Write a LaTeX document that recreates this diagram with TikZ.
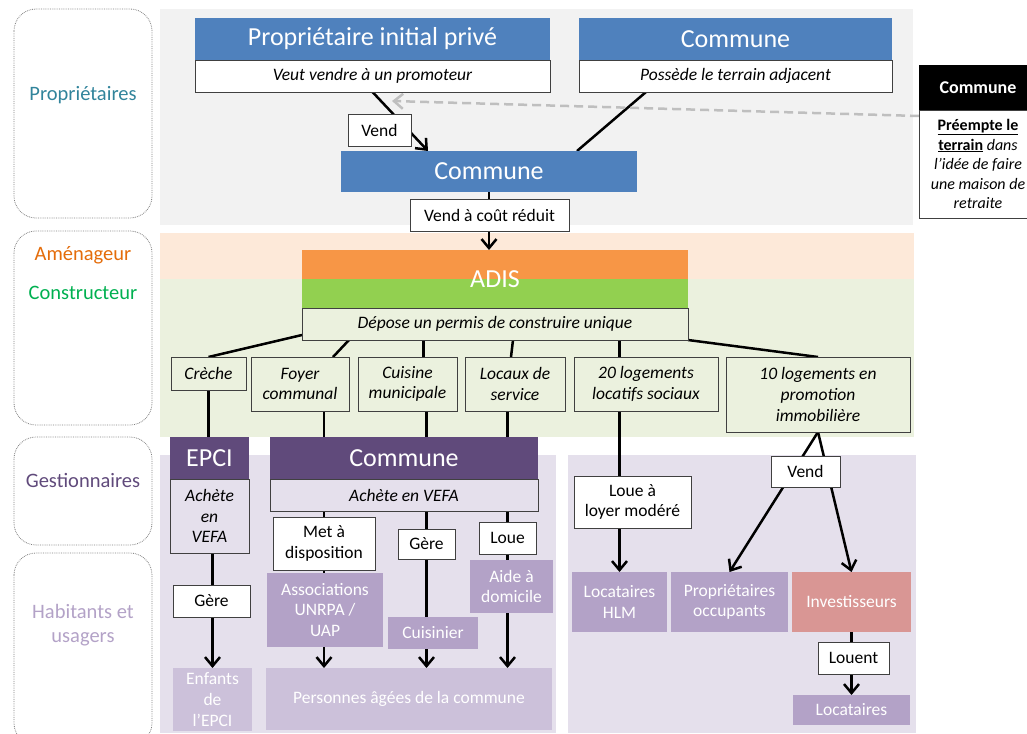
\documentclass[tikz,border=0pt]{standalone}
\usepackage{fontspec}
\setmainfont{Carlito}
\usepackage{tikz}
\usetikzlibrary{arrows.meta,positioning,calc}
\definecolor{bleu}{HTML}{4F81BD}
\definecolor{violetF}{HTML}{604A7B}
\definecolor{mauve}{HTML}{B3A2C7}
\definecolor{lilas}{HTML}{CCC1DA}
\definecolor{lavande}{HTML}{E5E0EC}
\definecolor{fondgris}{HTML}{F2F2F2}
\definecolor{orangeF}{HTML}{F79646}
\definecolor{orangeClair}{HTML}{FDE9D9}
\definecolor{vertF}{HTML}{92D050}
\definecolor{vertClair}{HTML}{EBF1DE}
\definecolor{rose}{HTML}{D99694}
\definecolor{bordure}{HTML}{404040}
\definecolor{tealF}{HTML}{31849B}
\definecolor{orangeT}{HTML}{E46C0A}
\definecolor{vertT}{HTML}{00B050}
\pgfdeclarelayer{fond}
\pgfdeclarelayer{liens}
\pgfsetlayers{fond,liens,main}
\tikzset{
  bloc/.style={rectangle,inner sep=0pt,outer sep=0pt,align=center},
  entete/.style={bloc,fill=#1,text=white,font=\fontsize{26}{30}\selectfont},
  action/.style={bloc,draw=bordure,fill=#1,font=\fontsize{17.5}{20.7}\selectfont\itshape},
  verbe/.style={bloc,draw=bordure,fill=white,font=\fontsize{17.5}{20.7}\selectfont},
  acteur/.style={bloc,fill=#1,text=white,font=\fontsize{17.5}{20.7}\selectfont},
  role/.style={align=center,font=\fontsize{20.5}{24}\selectfont},
  colonne/.style={draw=gray,densely dotted,rounded corners=22pt,line width=0.8pt},
  trait/.style={line width=2.5pt},
  fleche/.style={line width=2.5pt,-{Straight Barb[length=9pt,width=15pt]}},
}

\begin{document}
\begin{tikzpicture}[x=1pt,y=-1pt]
\useasboundingbox (0,0) rectangle (1027,733);

% draw background bands
\begin{pgfonlayer}{fond}
\fill[fondgris] (160,9) rectangle (913,225);
\fill[orangeClair] (160,233) rectangle (914,279);
\fill[vertClair] (160,279) rectangle (914,437);
\fill[lavande] (160,455) rectangle (556,733);
\fill[lavande] (568,455) rectangle (916,733);
\end{pgfonlayer}

% draw role column
\foreach \ya/\yb in {9/218,231/425,437/545,553/745}
  \draw[colonne] (14,\ya) rectangle (152,\yb);
\node[role,text=tealF] (rProp) at (83,95) {Propriétaires};
\node[role,text=orangeT] (rAmen) at (83,255) {Aménageur};
\node[role,text=vertT] (rCons) at (83,293) {Constructeur};
\node[role,text=violetF] (rGest) at (83,480) {Gestionnaires};
\node[role,text=mauve] (rHab) at (83,625) {Habitants et\\usagers};

% draw owners
\node[entete=bleu,minimum width=355,minimum height=42] (propH) at (372.5,39) {Propriétaire initial privé};
\node[action=white,minimum width=355,minimum height=32,below=0pt of propH] (propS) {Veut vendre à un promoteur};
\node[entete=bleu,minimum width=313,minimum height=42] (comH) at (735.5,39) {Commune};
\node[action=white,minimum width=313,minimum height=32,below=0pt of comH] (comS) {Possède le terrain adjacent};
\node[entete=bleu,minimum width=296,minimum height=41] (comMid) at (489,171.5) {Commune};
\node[bloc,fill=black,text=white,font=\fontsize{18}{22}\selectfont\bfseries,minimum width=118,minimum height=45] (preH) at (978,87.5) {Commune};
\node[bloc,draw=bordure,fill=white,font=\fontsize{16}{19.5}\selectfont,minimum width=118,minimum height=108,below=0pt of preH] (preS)
  {\textbf{\underline{Préempte le}}\\\textbf{\underline{terrain}} \textit{dans}\\\textit{l’idée de faire}\\\textit{une maison de}\\\textit{retraite}};
\coordinate (preTip) at (392,101);

% draw developer
\node[bloc,fill=orangeF,minimum width=386,minimum height=29] (adisO) at (495,264.5) {};
\node[bloc,fill=vertF,minimum width=386,minimum height=29,below=0pt of adisO] (adisG) {};
\node[text=white,font=\fontsize{26}{30}\selectfont] (adis) at (adisO.south) {ADIS};
\node[action=vertClair,minimum width=386,minimum height=32,below=0pt of adisG] (depose) {Dépose un permis de construire unique};

% draw programme
\node[action=vertClair,anchor=north,minimum width=75,minimum height=33] (creche) at (208.5,357) {Crèche};
\node[action=vertClair,anchor=north,minimum width=98,minimum height=54] (foyer) at (300,357) {Foyer\\communal};
\node[action=vertClair,anchor=north,minimum width=99,minimum height=54] (cuisine) at (407.5,357) {Cuisine\\municipale};
\node[action=vertClair,anchor=north,minimum width=100,minimum height=54] (locaux) at (515,357) {Locaux de\\service};
\node[action=vertClair,anchor=north,minimum width=144,minimum height=54] (logSoc) at (646,357) {20 logements\\locatifs sociaux};
\node[action=vertClair,anchor=north,minimum width=184,minimum height=75] (logPro) at (818,357) {10 logements en\\promotion\\immobilière};

% draw managers
\node[entete=violetF,minimum width=79,minimum height=42] (epciH) at (209.5,458) {EPCI};
\node[action=lavande,minimum width=79,minimum height=74,below=0pt of epciH] (epciS) {Achète\\en\\VEFA};
\node[entete=violetF,minimum width=268,minimum height=42] (comG) at (404,458) {Commune};
\node[action=lavande,minimum width=268,minimum height=32,below=0pt of comG] (comGS) {Achète en VEFA};

% draw users
\node[acteur=lilas,anchor=north,minimum width=79,minimum height=63] (enfants) at (212.5,668) {Enfants\\de\\l’EPCI};
\node[acteur=mauve,minimum width=116,minimum height=74] (assoc) at (325,610) {Associations\\UNRPA /\\UAP};
\node[acteur=mauve,minimum width=90,minimum height=32] (cuisinier) at (433,633) {Cuisinier};
\node[acteur=mauve,minimum width=83,minimum height=53] (aide) at (511.5,586.5) {Aide à\\domicile};
\node[acteur=lilas,anchor=north,minimum width=286,minimum height=62] (personnes) at (409,668) {Personnes âgées de la commune};
\node[acteur=mauve,minimum width=95,minimum height=60] (locHLM) at (619.5,602) {Locataires\\HLM};
\node[acteur=mauve,minimum width=117,minimum height=60] (propOcc) at (729.5,602) {Propriétaires\\occupants};
\node[acteur=rose,minimum width=119,minimum height=60] (invest) at (851.5,602) {Investisseurs};
\node[acteur=mauve,minimum width=117,minimum height=30] (locataires) at (851.5,710) {Locataires};

% draw verbs
\node[verbe,minimum width=63,minimum height=32] (vendA) at (379.5,130) {Vend};
\node[verbe,minimum width=159,minimum height=32] (vendCout) at (489.5,215) {Vend à coût réduit};
\node[verbe,minimum width=77,minimum height=32] (gereE) at (211.5,601) {Gère};
\node[verbe,minimum width=102,minimum height=53] (metDispo) at (324,543.5) {Met à\\disposition};
\node[verbe,minimum width=57,minimum height=30] (gereC) at (426.5,544) {Gère};
\node[verbe,minimum width=57,minimum height=32] (loue) at (507.5,538) {Loue};
\node[verbe,minimum width=117,minimum height=52] (loueLoyer) at (632.5,502) {Loue à\\loyer modéré};
\node[verbe,minimum width=69,minimum height=31] (vendB) at (805.5,471.5) {Vend};
\node[verbe,minimum width=71,minimum height=32] (louent) at (853.5,658) {Louent};

% draw links
\begin{pgfonlayer}{liens}
\draw[fleche] (propS.south) -- ($(comMid.north west)+(87,0)$);
\draw[trait] ($(comS.south west)+(67,0)$) -- ($(comMid.north east)+(-60,0)$);
\draw[fleche,draw=gray!50,dash pattern=on 9pt off 5pt] ($(preS.north west)+(0,6)$) -- (preTip);
\draw[fleche] (comMid.south) -- (comMid.south |- adisO.north);
\draw[trait] ($(depose.south west)+(0,-5)$) -- (creche.north);
\draw[trait] ($(depose.south west)+(47,0)$) -- ($(foyer.north east)+(-16,0)$);
\draw[trait] ($(cuisine.north)+(16,0)$) -- +(0,-17);
\draw[trait] ($(locaux.north)+(-4,0)$) -- +(2,-17);
\draw[trait] (locHLM.north |- logSoc.north) -- (locHLM.north |- depose.south);
\draw[trait] (depose.south east) -- (logPro.north);
\draw[trait] (creche.south) -- (creche.south |- epciH.north);
\foreach \a/\b in {foyer/metDispo,cuisine/gereC,locaux/loue}
  \draw[trait] (\b |- \a.south) -- (\b |- comG.north);
\draw[fleche] (enfants.north |- epciS.south) -- (enfants.north);
\foreach \n in {metDispo,gereC,loue}
  \draw[fleche] (\n |- comGS.south) -- (\n |- personnes.north);
\draw[fleche] (locHLM.north |- logSoc.south) -- (locHLM.north);
\draw[fleche] (logPro.south) -- (propOcc.north);
\draw[fleche] (logPro.south) -- (invest.north);
\draw[fleche] (invest.south) -- (locataires.north);
\end{pgfonlayer}
\end{tikzpicture}
\end{document}
